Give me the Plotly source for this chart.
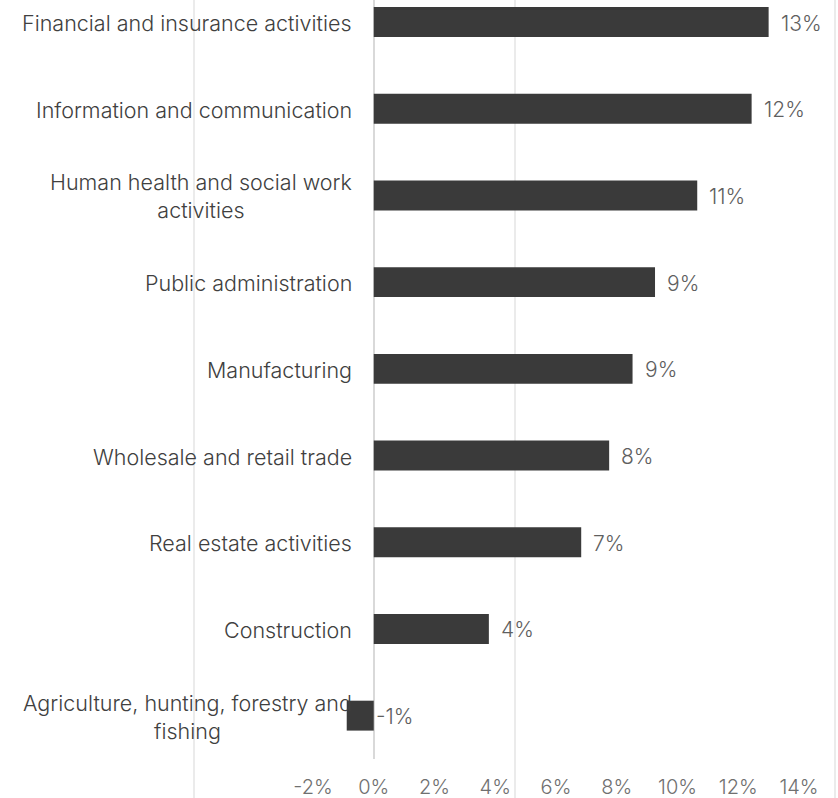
import plotly.graph_objects as go

# Sectors, listed bottom to top as they appear on the category axis
sectors = [
    "Agriculture, hunting, forestry and<br>fishing",
    "Construction",
    "Real estate activities",
    "Wholesale and retail trade",
    "Manufacturing",
    "Public administration",
    "Human health and social work<br>activities",
    "Information and communication",
    "Financial and insurance activities",
]
growth = [-0.0089, 0.0379, 0.0683, 0.0775, 0.0852, 0.0926, 0.1065, 0.1244, 0.1300]

x_ticks = [-0.02, 0.0, 0.02, 0.04, 0.06, 0.08, 0.10, 0.12, 0.14]
x_tick_text = ["{:.0%}".format(v) for v in x_ticks]

FONT = "Inter"
W, H = 838, 798
M_L, M_R, M_T, M_B = 313, 39, 0, 39

fig = go.Figure()
fig.add_trace(go.Bar(
    y=sectors,
    x=growth,
    orientation="h",
    marker=dict(color="#3a3a3a", line=dict(width=0)),
    width=0.345,
    hoverinfo="x+y",
))

annotations = []
# category labels sit just left of the zero line, lines centred
for s in sectors:
    annotations.append(dict(
        x=0, y=s, xref="x", yref="y",
        text=s, showarrow=False, xanchor="right", yanchor="middle",
        align="center", xshift=-20, yshift=-1,
        font=dict(family=FONT, size=21.5, weight=300, color="#404040"),
    ))
# value labels to the right of each bar end (or of the zero line)
for s, v in zip(sectors, growth):
    annotations.append(dict(
        x=max(v, 0), y=s, xref="x", yref="y",
        text="{:.0%}".format(v), showarrow=False,
        xanchor="left", yanchor="middle",
        xshift=10 if v > 0 else 0, yshift=-1,
        font=dict(family=FONT, size=21, weight=300, color="#5f5f5f"),
    ))

# thin panel divider lines running the full page height
pw = W - M_L - M_R
ph = H - M_T - M_B
shapes = []
for px in (194, 515, 835):
    xp = (px - M_L) / pw
    shapes.append(dict(
        type="line", xref="paper", yref="paper",
        x0=xp, x1=xp, y0=-M_B / ph, y1=1 + M_T / ph,
        line=dict(color="#e4e4e4", width=1.5), layer="below",
    ))

fig.update_layout(
    width=W, height=H,
    margin=dict(l=M_L, r=M_R, t=M_T, b=M_B, autoexpand=False),
    paper_bgcolor="white", plot_bgcolor="white",
    showlegend=False,
    annotations=annotations,
    shapes=shapes,
    xaxis=dict(
        range=[-0.02, 0.14],
        tickvals=x_ticks,
        ticktext=x_tick_text,
        showgrid=False,
        zeroline=True, zerolinecolor="#d9d9d9", zerolinewidth=1.5,
        showline=False, ticks="",
        tickfont=dict(family=FONT, size=20, weight=300, color="#707070"),
        ticklabelstandoff=14,
        automargin=False,
        fixedrange=True,
    ),
    yaxis=dict(
        categoryorder="array", categoryarray=sectors,
        range=[-0.5, 8.254],
        showticklabels=False, showgrid=False, zeroline=False,
        showline=False, ticks="",
        automargin=False,
        fixedrange=True,
    ),
)

fig.write_html("out.html")
